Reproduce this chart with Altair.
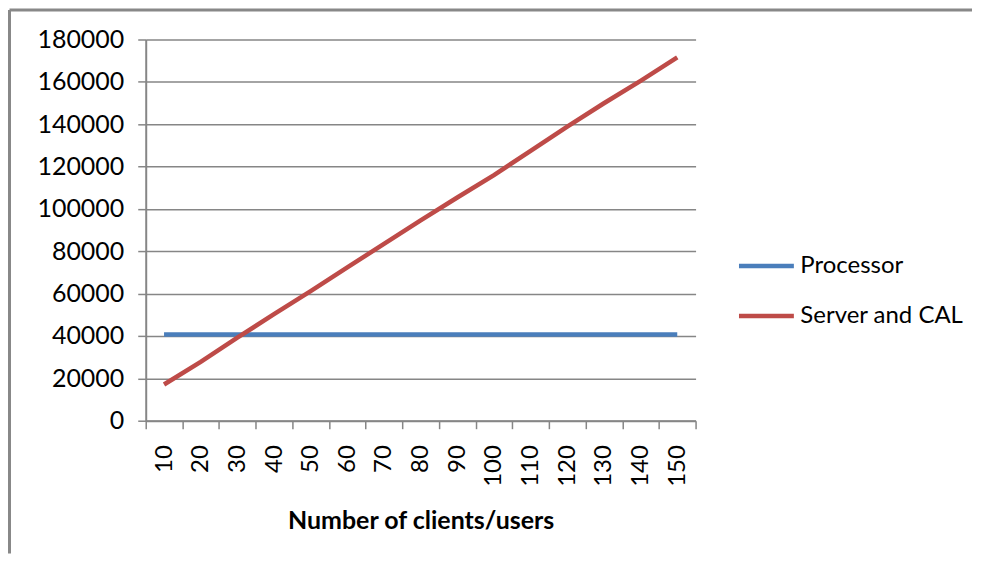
import altair as alt
import pandas as pd

users = [10, 20, 30, 40, 50, 60, 70, 80, 90, 100, 110, 120, 130, 140, 150]
processor = [40700] * 15
server_cal = [17100, 27800, 39200, 50300, 61200, 72400, 83500, 94600, 105400, 116000, 127400, 138900, 149900, 160500, 171600]
series_names = ["Processor", "Server and CAL"]
series_colors = ["#4A7EBB", "#BE4B48"]
y_ticks = list(range(0, 180001, 20000))

rows = []
for u, v in zip(users, processor):
    rows.append({"users": u, "cost": v, "series": series_names[0]})
for u, v in zip(users, server_cal):
    rows.append({"users": u, "cost": v, "series": series_names[1]})
df = pd.DataFrame(rows)

FONT = "Lato"
W, H = 551, 382

lines = alt.Chart(df).mark_line(strokeWidth=4.5).encode(
    x=alt.X(
        "users:O",
        bandPosition=0.5,
        sort=users,
        scale=alt.Scale(type="band", paddingInner=0, paddingOuter=0),
        axis=alt.Axis(
            title="Number of clients/users",
            labelAngle=270,
            labelFont=FONT,
            labelFontSize=24,
            labelColor="#000000",
            labelPadding=16,
            tickBand="extent",
            tickSize=8,
            tickColor="#868686",
            tickWidth=1.5,
            domainColor="#868686",
            domainWidth=2,
            titleFont=FONT,
            titleFontSize=25,
            titleFontWeight="bold",
            titleColor="#000000",
            titlePadding=22,
            grid=False,
        ),
    ),
    y=alt.Y(
        "cost:Q",
        scale=alt.Scale(domain=[0, 180000], nice=False),
        axis=alt.Axis(
            title=None,
            values=y_ticks,
            format="d",
            labelFont=FONT,
            labelFontSize=25,
            labelColor="#000000",
            labelPadding=14,
            tickSize=8,
            tickColor="#868686",
            tickWidth=1.5,
            domainColor="#868686",
            domainWidth=2,
            grid=True,
            gridColor="#868686",
            gridWidth=1.5,
        ),
    ),
    color=alt.Color(
        "series:N",
        scale=alt.Scale(domain=series_names, range=series_colors),
        legend=alt.Legend(
            title=None,
            orient="none",
            legendX=592,
            legendY=217,
            padding=0,
            symbolType="stroke",
            symbolSize=3025,
            symbolStrokeWidth=4.5,
            clipHeight=20,
            rowPadding=26,
            labelOffset=4,
            labelLimit=400,
            labelFont=FONT,
            labelFontSize=24,
            labelColor="#000000",
        ),
    ),
)

frame_data = alt.Data(values=[{"k": 1}])
frame_top = alt.Chart(frame_data).mark_rule(color="#888888", strokeWidth=3).encode(
    x=alt.value(-136.5), x2=alt.value(828), y=alt.value(-29.5)
)
frame_left = alt.Chart(frame_data).mark_rule(color="#888888", strokeWidth=3).encode(
    x=alt.value(-136.5), y=alt.value(-29.5), y2=alt.value(515)
)

chart = alt.layer(frame_top, frame_left, lines).properties(
    width=W, height=H, padding=0, background="#ffffff"
).configure_view(stroke=None)

chart.save("out.html", embed_options={"renderer": "svg", "actions": False})
